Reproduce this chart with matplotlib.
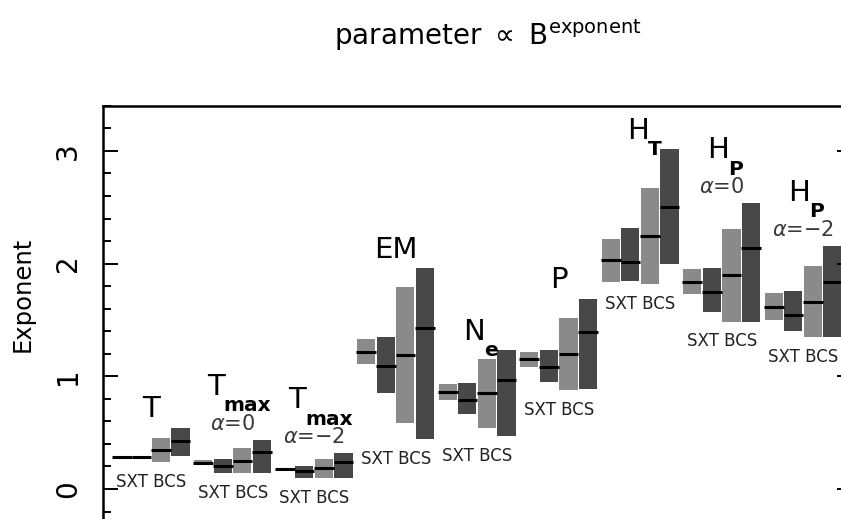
import matplotlib
matplotlib.use('Agg')
import matplotlib.pyplot as plt
from matplotlib.ticker import MultipleLocator

# --- data (exponent ranges and medians) ---
# order in each group: SXT light, SXT dark, BCS light, BCS dark
group_main = ['T', 'T', 'T', 'EM', 'N', 'P', 'H', 'H', 'H']
group_sub = ['', 'max', 'max', '', 'e', '', 'T', 'P', 'P']
group_note = ['', r'$\alpha$=0', r'$\alpha$=−2', '', '', '', '', r'$\alpha$=0', r'$\alpha$=−2']

low = [
    [0.287, 0.287, 0.24, 0.29],
    [0.21, 0.14, 0.14, 0.14],
    [0.16, 0.10, 0.10, 0.10],
    [1.11, 0.85, 0.59, 0.44],
    [0.79, 0.67, 0.54, 0.47],
    [1.08, 0.95, 0.88, 0.885],
    [1.84, 1.85, 1.82, 2.00],
    [1.73, 1.57, 1.485, 1.485],
    [1.50, 1.405, 1.35, 1.35],
]
high = [
    [0.287, 0.287, 0.455, 0.545],
    [0.257, 0.263, 0.36, 0.435],
    [0.19, 0.20, 0.263, 0.317],
    [1.33, 1.35, 1.79, 1.96],
    [0.93, 0.945, 1.15, 1.235],
    [1.22, 1.235, 1.52, 1.69],
    [2.22, 2.32, 2.67, 3.02],
    [1.95, 1.965, 2.31, 2.535],
    [1.735, 1.76, 1.98, 2.155],
]
median = [
    [0.287, 0.287, 0.345, 0.425],
    [0.235, 0.20, 0.25, 0.325],
    [0.175, 0.16, 0.183, 0.237],
    [1.22, 1.09, 1.19, 1.43],
    [0.865, 0.79, 0.855, 0.967],
    [1.157, 1.085, 1.195, 1.396],
    [2.03, 2.015, 2.248, 2.505],
    [1.84, 1.745, 1.90, 2.136],
    [1.618, 1.544, 1.662, 1.834],
]

# layout
bar_offsets = [-0.36, -0.12, 0.12, 0.36]
bar_width = 0.222
bar_colors = ['#8a8a8a', '#484848', '#8a8a8a', '#484848']
name_dx = [0, -0.319, -0.321, 0, -0.174, 0, -0.166, -0.184, -0.187]

fig = plt.figure(figsize=(8.41, 5.19), dpi=100)
ax = fig.add_axes([103 / 841, 0, 749 / 841, 413.4 / 519])

for g in range(len(low)):
    for j in range(4):
        xc = g + bar_offsets[j]
        ax.bar(xc, high[g][j] - low[g][j], bottom=low[g][j], width=bar_width,
               color=bar_colors[j], linewidth=0)
        ax.hlines(median[g][j], xc - bar_width / 2 - 0.01, xc + bar_width / 2 + 0.01,
                  color='black', lw=2.2, zorder=3)

    top = max(high[g])
    bottom = min(low[g])
    ax.text(g, bottom - 0.22, 'SXT BCS', ha='center', va='baseline', fontsize=12,
            color='#222222')

    y_name = top + 0.09
    if group_note[g]:
        ax.text(g, y_name, group_note[g], ha='center', va='baseline', fontsize=15,
                color='#3a3a3a')
        y_name += 0.31
    if group_sub[g]:
        t = ax.text(g + name_dx[g], y_name, group_main[g], ha='left', va='baseline',
                    fontsize=21)
        ax.annotate(group_sub[g], xy=(1, 0), xycoords=t, xytext=(-0.5, -7.5),
                    textcoords='offset points', ha='left', va='baseline',
                    fontsize=14.5, fontweight='bold')
    else:
        ax.text(g + name_dx[g], y_name, group_main[g], ha='center', va='baseline',
                fontsize=21)

ax.set_xlim(-0.591, 8.599)
ax.set_ylim(-0.266, 3.402)
ax.set_xticks([])
ax.yaxis.set_major_locator(MultipleLocator(1))
ax.yaxis.set_minor_locator(MultipleLocator(0.2))
ax.tick_params(axis='y', which='both', direction='in', left=True, right=True,
               width=1.4, labelsize=20, labelrotation=90, pad=15)
ax.tick_params(axis='y', which='major', length=11)
ax.tick_params(axis='y', which='minor', length=6)
for lab in ax.get_yticklabels():
    lab.set_va('center')
ax.spines['bottom'].set_visible(False)
for s in ['left', 'top', 'right']:
    ax.spines[s].set_linewidth(1.8)

fig.text(23 / 841, 1 - 294.5 / 519, 'Exponent', rotation=90, ha='center', va='center',
         fontsize=17.5)
fig.text(488 / 841, 1 - 45 / 519, r'parameter $\propto$ B$^{\mathrm{exponent}}$',
         ha='center', va='baseline', fontsize=20)

fig.savefig('out.png', dpi=100)
